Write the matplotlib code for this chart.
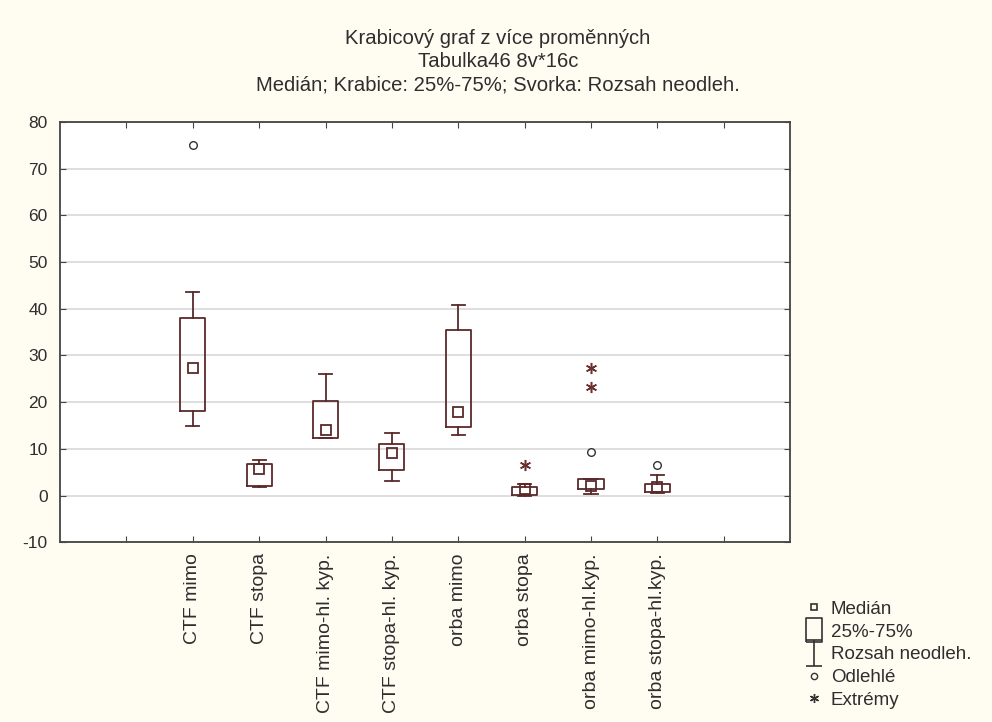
import matplotlib.pyplot as plt
import numpy as np
from matplotlib.path import Path
from matplotlib.lines import Line2D

plt.rcParams['font.family'] = ['Liberation Sans', 'DejaVu Sans']
plt.rcParams['axes.unicode_minus'] = False

# values
labels = ['CTF mimo', 'CTF stopa', 'CTF mimo-hl. kyp.', 'CTF stopa-hl. kyp.',
          'orba mimo', 'orba stopa', 'orba mimo-hl.kyp.', 'orba stopa-hl.kyp.']
medians = [27.4, 5.7, 14.1, 9.2, 17.9, 1.5, 2.1, 1.8]
q1 = [18.1, 2.0, 12.4, 5.4, 14.7, 0.1, 1.4, 0.8]
q3 = [38.0, 6.8, 20.3, 11.1, 35.5, 1.9, 3.6, 2.5]
whis_lo = [14.8, 1.9, 12.3, 3.2, 12.9, 0.0, 0.3, 0.5]
whis_hi = [43.7, 7.7, 26.0, 13.4, 40.9, 2.5, 3.6, 4.3]
outliers = [[75.0], [], [], [], [], [], [9.3], [6.6]]
extremes = [[], [], [], [], [], [6.5], [27.4, 23.3], []]

line_col = '#5a2a2a'
text_col = '#2e2e2e'
star = (6, 2, 0)

fig = plt.figure(figsize=(9.92, 7.22), dpi=100, facecolor='#fffcf2')
ax = fig.add_axes([0.0605, 0.249, 0.736, 0.582])
ax.set_facecolor('white')

pos = np.arange(2, 2 + len(labels))
stats = []
for i in range(len(labels)):
    stats.append({'med': medians[i], 'q1': q1[i], 'q3': q3[i],
                  'whislo': whis_lo[i], 'whishi': whis_hi[i], 'fliers': []})

ax.bxp(stats, positions=pos, widths=0.38, showfliers=False, manage_ticks=False,
       boxprops=dict(color=line_col, linewidth=1.3),
       whiskerprops=dict(color=line_col, linewidth=1.3),
       capprops=dict(color=line_col, linewidth=1.3),
       medianprops=dict(linewidth=0), capwidths=0.2)

ax.plot(pos, medians, ls='none', marker='s', ms=6.5, mfc='none', mec=line_col, mew=1.3)
for p, vals in zip(pos, outliers):
    if vals:
        ax.plot([p] * len(vals), vals, ls='none', marker='o', ms=5.5, mfc='white',
                mec='#333333', mew=1.0)
for p, vals in zip(pos, extremes):
    if vals:
        ax.plot([p] * len(vals), vals, ls='none', marker=star, ms=8, mec='#6b3030', mew=1.1)

ax.set_xlim(0, 11)
ax.set_ylim(-10, 80)
ax.set_yticks(np.arange(-10, 81, 10))
ax.set_xticks(np.arange(1, 11))
ax.set_xticklabels([''] + labels + [''], rotation=90)
ax.tick_params(axis='both', direction='in', top=True, right=True, length=4,
               color='#444444', labelcolor=text_col)
ax.tick_params(axis='y', labelsize=12.5, pad=9)
ax.tick_params(axis='x', labelsize=14, pad=8)
ax.yaxis.grid(True, color='#d8d8d8', linewidth=1.2)
ax.set_axisbelow(True)
for s in ax.spines.values():
    s.set_color('#444444')
    s.set_linewidth(1.3)

title_lines = ['Krabicový graf z více proměnných', 'Tabulka46 8v*16c',
               'Medián; Krabice: 25%-75%; Svorka: Rozsah neodleh.']
for k, t in enumerate(title_lines):
    fig.text(0.502, 1 - (38 + 23.5 * k) / 722, t, ha='center', va='center',
             fontsize=14.6, color=text_col)

whisker_path = Path([(-0.6, 1), (0.6, 1), (0, 1), (0, -1), (-0.6, -1), (0.6, -1)],
                    [Path.MOVETO, Path.LINETO, Path.MOVETO, Path.LINETO, Path.MOVETO, Path.LINETO])
box_path = Path([(-0.7, -1), (0.7, -1), (0.7, 1), (-0.7, 1), (-0.7, -1)])
handles = [
    Line2D([], [], ls='none', marker='s', ms=5, mfc='none', mec='#333333', mew=1.2),
    Line2D([], [], ls='none', marker=box_path, ms=17, mfc='none', mec='#333333', mew=1.2),
    Line2D([], [], ls='none', marker=whisker_path, ms=19, mfc='none', mec='#333333', mew=1.2),
    Line2D([], [], ls='none', marker='o', ms=4.5, mfc='none', mec='#333333', mew=1.0),
    Line2D([], [], ls='none', marker=star, ms=6.5, mec='#333333'),
]
fig.legend(handles, ['Medián', '25%-75%', 'Rozsah neodleh.', 'Odlehlé', 'Extrémy'],
           loc='upper left', bbox_to_anchor=(0.811, 0.168), frameon=False, fontsize=13.5,
           labelcolor=text_col, handlelength=1.0, handletextpad=0.4,
           labelspacing=0.3, borderpad=0, borderaxespad=0)

fig.savefig('out.png', dpi=100, facecolor=fig.get_facecolor())
